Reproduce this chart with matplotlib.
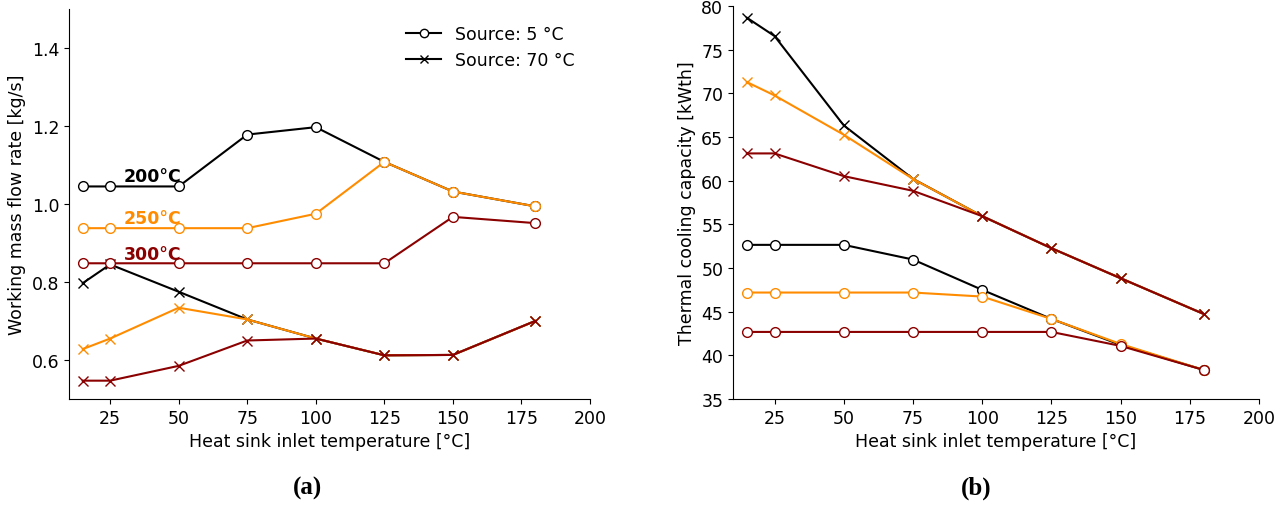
import matplotlib
matplotlib.use("Agg")
import matplotlib.pyplot as plt
from matplotlib.lines import Line2D

# heat sink inlet temperatures [°C]
sink_temp = [15, 25, 50, 75, 100, 125, 150, 180]
gen_labels = ["200°C", "250°C", "300°C"]
colors = ["black", "darkorange", "darkred"]

# (a) working mass flow rate [kg/s]
flow_src5 = [
    [1.045, 1.045, 1.045, 1.178, 1.197, 1.108, 1.032, 0.994],
    [0.938, 0.938, 0.938, 0.938, 0.975, 1.108, 1.032, 0.994],
    [0.848, 0.848, 0.848, 0.848, 0.848, 0.848, 0.967, 0.951],
]
flow_src70 = [
    [0.797, 0.845, 0.775, 0.704, 0.655, 0.612, 0.613, 0.700],
    [0.628, 0.655, 0.734, 0.704, 0.655, 0.612, 0.613, 0.700],
    [0.547, 0.547, 0.585, 0.650, 0.655, 0.612, 0.613, 0.700],
]

# (b) thermal cooling capacity [kWth]
cool_src5 = [
    [52.65, 52.65, 52.65, 50.97, 47.5, 44.17, 41.2, 38.33],
    [47.19, 47.19, 47.19, 47.19, 46.73, 44.17, 41.3, 38.33],
    [42.68, 42.68, 42.68, 42.68, 42.68, 42.68, 41.08, 38.33],
]
cool_src70 = [
    [78.66, 76.56, 66.33, 60.21, 55.94, 52.27, 48.83, 44.74],
    [71.29, 69.76, 65.26, 60.2, 55.94, 52.27, 48.83, 44.74],
    [63.12, 63.12, 60.52, 58.84, 55.94, 52.27, 48.83, 44.74],
]

label_pos_a = [1.073, 0.965, 0.873]

plt.rcParams['font.size'] = 12.5

fig = plt.figure(figsize=(12.85, 5.06), dpi=100)
ax1 = fig.add_axes([69 / 1285, 106 / 506, 521 / 1285, 390 / 506])
ax2 = fig.add_axes([733 / 1285, 106 / 506, 526 / 1285, 393 / 506])


def draw(ax, src5, src70):
    for c, y5, y70 in zip(colors, src5, src70):
        ax.plot(sink_temp, y5, color=c, marker='o', markersize=7,
                markerfacecolor='white', markeredgecolor=c, lw=1.5)
        ax.plot(sink_temp, y70, color=c, marker='x', markersize=7, lw=1.5)
    ax.spines['top'].set_visible(False)
    ax.spines['right'].set_visible(False)
    ax.set_xlim(10, 200)
    ax.set_xticks([25, 50, 75, 100, 125, 150, 175, 200])
    ax.set_xlabel('Heat sink inlet temperature [°C]')


draw(ax1, flow_src5, flow_src70)
ax1.set_ylim(0.5, 1.5)
ax1.set_yticks([0.6, 0.8, 1.0, 1.2, 1.4])
ax1.set_ylabel('Working mass flow rate [kg/s]')
for lab, c, yp in zip(gen_labels, colors, label_pos_a):
    ax1.text(30, yp, lab, color=c, fontweight='bold', fontsize=12.5, va='center')

handles = [
    Line2D([], [], color='black', marker='o', markersize=6, markerfacecolor='white', lw=1.5),
    Line2D([], [], color='black', marker='x', markersize=6, lw=1.5),
]
ax1.legend(handles, ['Source: 5 °C', 'Source: 70 °C'], loc='upper right',
           frameon=False, bbox_to_anchor=(1.0, 1.0))

draw(ax2, cool_src5, cool_src70)
ax2.set_ylim(35, 80)
ax2.set_yticks(range(35, 81, 5))
ax2.set_ylabel('Thermal cooling capacity [kWth]')

fig.text(308 / 1285, 1 - 488 / 506, '(a)', fontfamily='Liberation Serif',
         fontweight='bold', fontsize=18, ha='center', va='center')
fig.text(976 / 1285, 1 - 488 / 506, '(b)', fontfamily='Liberation Serif',
         fontweight='bold', fontsize=18, ha='center', va='center')

fig.savefig('out.png', dpi=100)
